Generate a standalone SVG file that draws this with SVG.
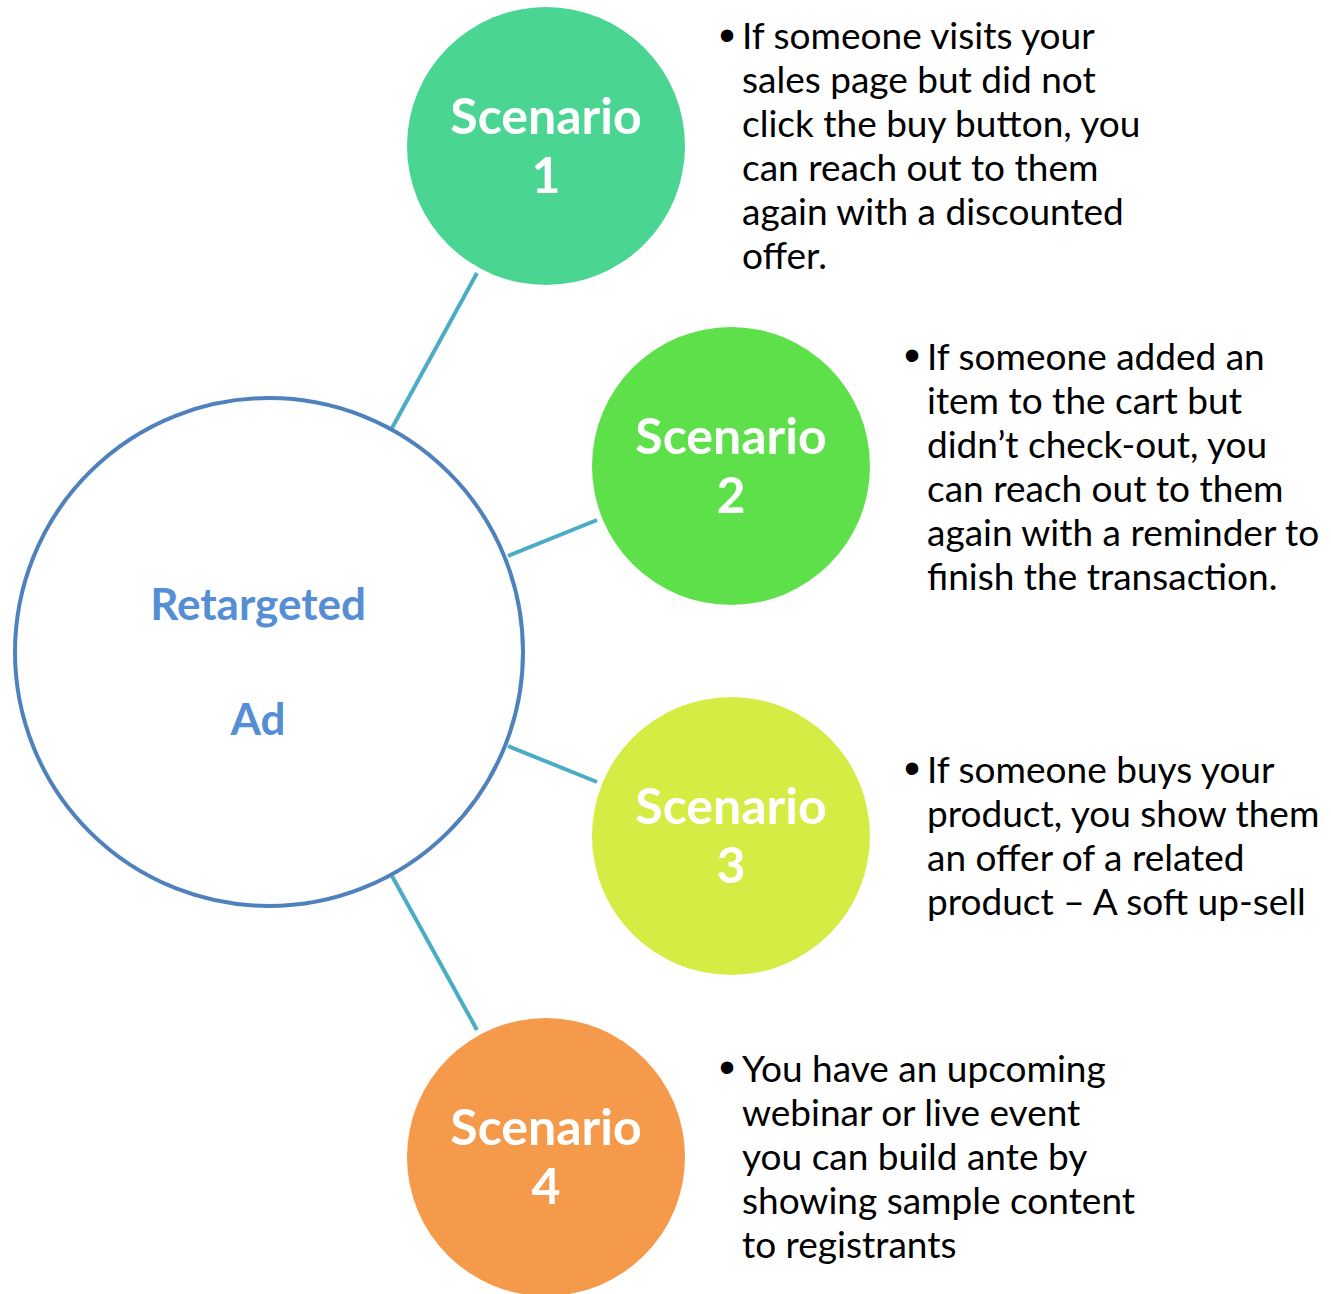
<svg xmlns="http://www.w3.org/2000/svg" width="1331" height="1294" viewBox="0 0 1331 1294">
<style>
.conn{stroke:#4bacc6;stroke-width:4;fill:none}
.lbl{font-family:Lato,"Open Sans","Liberation Sans",sans-serif;font-weight:bold;font-size:50px;fill:#ffffff;text-anchor:middle}
.ctr{font-family:Lato,"Open Sans","Liberation Sans",sans-serif;font-weight:bold;font-size:44px;fill:#558ed5;text-anchor:middle}
.body{font-family:Lato,"Open Sans","Liberation Sans",sans-serif;font-size:37px;fill:#000000}
.bul{font-family:"Liberation Sans",sans-serif;font-size:46px;fill:#000000;text-anchor:middle}
</style>
<rect width="1331" height="1294" fill="#ffffff"/>
<g id="connectors">
<line class="conn" x1="392" y1="428" x2="477" y2="273"/>
<line class="conn" x1="508" y1="556" x2="597" y2="520"/>
<line class="conn" x1="508" y1="746" x2="597" y2="782"/>
<line class="conn" x1="392" y1="876" x2="477" y2="1030"/>
</g>
<g id="center">
<circle cx="269" cy="652" r="254" fill="#ffffff" stroke="#4f81bd" stroke-width="4"/>
<text class="ctr" x="258" y="620">Retargeted</text>
<text class="ctr" x="258" y="735">Ad</text>
</g>
<g id="scenario1">
<circle cx="546" cy="146" r="139" fill="#4ad593"/>
<text class="lbl" x="546" y="134">Scenario</text>
<text class="lbl" x="546" y="193">1</text>
</g>
<g id="scenario2">
<circle cx="731" cy="466" r="139" fill="#5de049"/>
<text class="lbl" x="731" y="454">Scenario</text>
<text class="lbl" x="731" y="513">2</text>
</g>
<g id="scenario3">
<circle cx="731" cy="836" r="139" fill="#d5ec45"/>
<text class="lbl" x="731" y="824">Scenario</text>
<text class="lbl" x="731" y="883">3</text>
</g>
<g id="scenario4">
<circle cx="546" cy="1157" r="139" fill="#f5994a"/>
<text class="lbl" x="546" y="1145">Scenario</text>
<text class="lbl" x="546" y="1204">4</text>
</g>
<g id="desc1">
<text class="bul" x="727" y="51">•</text>
<text class="body" x="742" y="49">If someone visits your</text>
<text class="body" x="742" y="93">sales page but did not</text>
<text class="body" x="742" y="137">click the buy button, you</text>
<text class="body" x="742" y="181">can reach out to them</text>
<text class="body" x="742" y="225">again with a discounted</text>
<text class="body" x="742" y="269">offer.</text>
</g>
<g id="desc2">
<text class="bul" x="912" y="371">•</text>
<text class="body" x="927" y="370">If someone added an</text>
<text class="body" x="927" y="414">item to the cart but</text>
<text class="body" x="927" y="458">didn’t check-out, you</text>
<text class="body" x="927" y="502">can reach out to them</text>
<text class="body" x="927" y="546">again with a reminder to</text>
<text class="body" x="927" y="590">finish the transaction.</text>
</g>
<g id="desc3">
<text class="bul" x="912" y="784">•</text>
<text class="body" x="927" y="783">If someone buys your</text>
<text class="body" x="927" y="827">product, you show them</text>
<text class="body" x="927" y="871">an offer of a related</text>
<text class="body" x="927" y="915">product – A soft up-sell</text>
</g>
<g id="desc4">
<text class="bul" x="727" y="1083">•</text>
<text class="body" x="742" y="1082">You have an upcoming</text>
<text class="body" x="742" y="1126">webinar or live event</text>
<text class="body" x="742" y="1170">you can build ante by</text>
<text class="body" x="742" y="1214">showing sample content</text>
<text class="body" x="742" y="1258">to registrants</text>
</g>
</svg>
